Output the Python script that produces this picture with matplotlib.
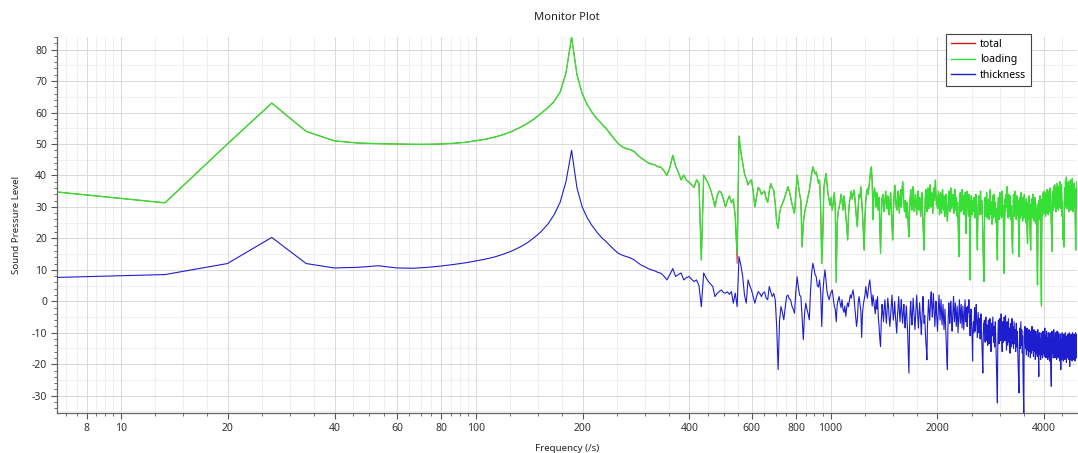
import numpy as np
import matplotlib
matplotlib.use("Agg")
import matplotlib.pyplot as plt
from matplotlib.ticker import FixedLocator, FixedFormatter, MultipleLocator, NullFormatter
from matplotlib.lines import Line2D

# ---------------- data ----------------
FREQ_STEP_HZ = 6.65   # spectral resolution of the monitor (Hz)

# loading noise (dB), bins 1..50
loading_low = [
    34.7, 31.3, 50.0, 63.0, 54.0, 51.0, 50.3, 50.1, 50.0, 49.9,
    49.9, 50.0, 50.2, 50.5, 51.0, 51.5, 52.2, 53.0, 54.0, 55.2,
    56.5, 58.0, 59.8, 61.5, 63.5, 66.5, 72.5, 84.0, 72.0, 66.0,
    62.5, 60.0, 58.0, 56.5, 55.0, 53.2, 51.5, 50.0, 49.0, 48.5,
    48.2, 47.6, 46.5, 45.5, 44.8, 44.0, 43.6, 43.4, 42.8, 42.6]
# bins 51..200
loading_mid = [
    41.5, 40.0, 42.5, 46.4, 43.0, 41.0, 38.6, 40.1, 38.5, 37.9,
    37.0, 36.2, 38.6, 37.5, 13.1, 40.1, 38.8, 37.5, 35.5, 33.0,
    30.0, 33.5, 35.0, 34.6, 32.5, 30.0, 32.0, 33.5, 31.3, 32.5,
    27.0, 15.3, 52.5, 47.5, 44.0, 40.5, 39.0, 37.0, 38.0, 38.6,
    35.0, 30.0, 33.0, 36.2, 35.5, 34.0, 34.6, 35.0, 32.5, 31.5,
    35.0, 37.4, 36.0, 35.3, 31.0, 25.0, 23.2, 28.0, 30.0, 31.0,
    32.1, 33.5, 35.0, 36.4, 35.0, 33.2, 31.0, 29.5, 27.9, 34.0,
    40.1, 37.0, 34.0, 32.1, 17.3, 25.0, 28.0, 30.0, 31.5, 33.5,
    35.3, 38.0, 40.5, 42.7, 41.5, 40.5, 41.1, 39.5, 37.5, 38.5,
    30.0, 12.0, 21.6, 36.0, 38.5, 40.6, 37.0, 34.0, 32.1, 30.5,
    33.0, 29.0, 31.0, 34.5, 30.0, 6.0, 25.0, 28.5, 30.0, 31.5,
    34.0, 32.1, 29.0, 33.5, 31.0, 27.0, 24.0, 19.5, 28.0, 31.5,
    33.2, 35.0, 32.5, 34.0, 35.3, 33.0, 29.5, 26.0, 23.7, 30.5,
    34.0, 33.0, 36.4, 32.0, 28.0, 22.0, 16.3, 27.0, 32.0, 34.5,
    35.8, 34.0, 36.5, 39.0, 41.5, 42.7, 38.0, 26.0, 34.0, 36.0]
# bins 201..380
loading_high_a = [
    33.5, 30.0, 34.5, 31.0, 29.0, 33.0, 24.0, 15.2, 27.0, 32.5,
    34.0, 30.5, 28.5, 32.0, 35.0, 31.0, 29.5, 33.5, 30.0, 27.5,
    31.5, 34.5, 29.0, 24.0, 19.5, 28.5, 33.0, 36.9, 34.0, 30.5,
    29.0, 32.5, 35.0, 31.5, 28.0, 33.0, 35.5, 30.0, 34.5, 38.0,
    35.0, 31.0, 28.5, 32.0, 30.0, 26.5, 31.5, 29.0, 24.0, 20.5,
    28.0, 32.5, 35.5, 31.0, 29.0, 33.5, 36.4, 32.0, 28.5, 31.0,
    34.0, 30.5, 27.5, 32.0, 35.0, 31.5, 29.0, 33.0, 30.0, 27.0,
    31.5, 34.5, 29.5, 24.5, 20.0, 16.3, 27.0, 32.5, 35.5, 31.0,
    28.5, 33.0, 36.0, 32.5, 29.5, 34.0, 37.0, 33.5, 30.0, 34.5,
    31.0, 28.0, 33.5, 36.0, 32.0, 35.5, 38.5, 34.0, 30.5, 33.0,
    29.5, 32.5, 35.0, 31.0, 27.5, 32.0, 34.5, 30.0, 28.0, 33.0,
    35.5, 31.5, 29.0, 33.5, 30.5, 27.0, 31.5, 34.0, 30.0, 28.5,
    25.5, 29.0, 32.5, 35.0, 31.0, 28.5, 33.0, 36.0, 32.5, 29.5,
    33.5, 30.5, 34.0, 31.5, 28.0, 32.5, 35.5, 31.5, 29.0, 33.0,
    30.0, 27.0, 31.5, 25.0, 20.0, 14.2, 26.0, 31.5, 34.5, 30.5,
    28.5, 33.0, 35.5, 31.0, 29.0, 33.5, 30.0, 27.5, 32.0, 34.5,
    30.5, 21.6, 32.5, 35.0, 31.0, 33.5, 29.5, 27.0, 31.5, 34.0,
    24.0, 6.8, 26.0, 31.0, 33.5, 30.0, 27.5, 32.0, 29.0, 31.5]
# bins 381..745
loading_high_b = [
    28.5, 33.0, 30.0, 26.5, 31.0, 34.0, 29.5, 27.0, 22.0, 16.3,
    26.0, 30.5, 33.5, 29.0, 31.5, 27.5, 32.5, 35.0, 30.5, 28.0,
    32.0, 29.5, 26.0, 21.0, 14.0, 9.0, 6.3, 22.0, 29.5, 33.0,
    30.0, 27.0, 31.5, 34.5, 29.5, 26.5, 31.0, 28.5, 32.5, 30.0,
    26.0, 29.5, 33.0, 35.5, 30.5, 27.5, 31.5, 28.0, 24.5, 30.0,
    33.5, 29.0, 26.5, 31.0, 34.0, 30.5, 27.0, 31.5, 28.0, 25.0,
    29.5, 24.0, 19.0, 13.1, 24.5, 30.5, 33.0, 29.0, 26.0, 31.5,
    34.5, 30.0, 27.5, 32.0, 29.0, 26.5, 31.0, 35.0, 30.5, 27.0,
    30.5, 25.0, 17.0, 8.9, 22.0, 29.5, 32.5, 28.5, 31.0, 34.0,
    30.0, 33.0, 36.4, 33.7, 29.5, 26.5, 31.5, 34.0, 29.0, 27.0,
    31.0, 33.5, 29.5, 26.0, 30.5, 28.0, 24.0, 21.0, 18.0, 15.2,
    26.5, 31.0, 34.0, 30.0, 27.0, 32.0, 35.0, 30.5, 28.0, 31.5,
    29.0, 26.0, 31.0, 33.5, 29.5, 27.5, 32.0, 28.5, 25.0, 20.0,
    14.2, 24.0, 30.0, 33.0, 29.5, 26.5, 31.0, 34.5, 30.0, 27.5,
    31.5, 28.5, 25.5, 30.0, 33.0, 29.0, 26.5, 31.5, 34.0, 30.0,
    27.0, 31.0, 28.0, 25.0, 29.5, 32.5, 28.5, 24.0, 21.0, 18.4,
    27.0, 31.5, 29.0, 26.0, 30.5, 33.5, 29.5, 27.0, 22.0, 19.0,
    16.3, 26.5, 31.0, 28.5, 32.5, 30.0, 26.5, 31.0, 34.0, 29.5,
    27.0, 31.5, 28.0, 25.5, 30.0, 33.0, 29.0, 26.5, 31.0, 28.0,
    24.5, 29.5, 27.0, 20.0, 12.0, 5.2, 18.0, 27.5, 31.0, 28.5,
    32.0, 29.5, 26.0, 30.5, 33.5, 29.0, 26.5, 22.0, 15.0, 7.0,
    -1.1, 20.0, 29.0, 32.5, 30.0, 27.5, 31.5, 34.5, 30.5, 28.0,
    32.5, 35.0, 31.0, 28.5, 33.0, 30.0, 27.0, 31.5, 34.5, 30.5,
    28.0, 32.5, 35.5, 31.5, 29.0, 33.0, 30.5, 27.5, 32.0, 35.0,
    31.0, 28.5, 33.5, 36.0, 32.0, 29.5, 34.0, 31.0, 27.0, 24.0,
    21.0, 18.0, 15.8, 25.0, 31.5, 35.0, 32.0, 29.0, 33.5, 36.5,
    32.5, 30.0, 34.0, 37.0, 33.0, 30.5, 34.5, 31.5, 28.5, 33.0,
    36.0, 32.5, 29.5, 34.0, 37.5, 33.5, 30.5, 35.0, 32.0, 29.0,
    33.5, 36.5, 33.0, 30.0, 34.5, 38.0, 34.0, 31.0, 35.5, 32.5,
    29.5, 34.0, 37.0, 33.5, 30.5, 27.0, 31.5, 26.0, 22.0, 19.5,
    25.0, 21.0, 19.0, 17.3, 27.0, 32.5, 36.0, 33.0, 30.0, 34.5,
    38.5, 34.5, 31.0, 35.5, 39.5, 35.0, 32.0, 29.5, 34.0, 37.5,
    33.5, 30.5, 35.0, 38.0, 34.5, 31.5, 28.5, 33.0, 36.5, 33.0,
    30.0, 34.5, 38.5, 35.0, 32.0, 29.0, 33.5, 37.0, 33.5, 30.5,
    34.5, 39.0, 35.5, 32.0, 28.5, 33.0, 36.5, 33.0, 30.0, 34.0,
    37.5, 34.0, 31.0, 35.5, 30.0, 24.0, 20.0, 16.3, 27.0, 32.5,
    36.0, 33.0, 30.0, 34.5, 38.0]

# thickness noise (dB), bins 1..50
thickness_low = [
    7.6, 8.5, 12.0, 20.3, 12.0, 10.6, 10.8, 11.3, 10.6, 10.5,
    10.8, 11.2, 11.7, 12.2, 12.8, 13.4, 14.1, 15.0, 16.0, 17.2,
    18.6, 20.3, 22.2, 24.5, 27.5, 31.5, 38.0, 48.0, 36.0, 30.0,
    26.5, 24.0, 22.0, 20.3, 19.0, 17.6, 16.3, 15.2, 14.6, 14.2,
    13.8, 13.2, 12.3, 11.5, 11.0, 10.4, 10.0, 9.7, 9.2, 8.9]
# bins 51..200
thickness_mid = [
    8.0, 6.8, 8.5, 10.4, 7.9, 8.5, 9.0, 6.8, 7.5, 7.9,
    7.0, 6.3, 6.8, 5.0, -1.7, 9.0, 7.5, 6.3, 5.5, 4.7,
    1.5, 2.5, 3.1, 3.6, 2.8, 2.6, 3.0, 2.2, 3.1, -0.6,
    2.6, -1.7, 14.2, 11.5, 8.0, 2.0, -0.6, 6.8, 5.0, 3.6,
    1.5, -0.6, 1.5, 3.1, 2.5, 1.5, 2.6, 3.0, 1.0, 0.5,
    4.7, 3.0, 1.5, 2.5, 0.5, -8.0, -21.7, -6.0, -1.7, -3.5,
    -5.9, -2.0, 1.5, 2.0, 0.8, 0.5, -1.5, -2.5, -3.8, 3.0,
    7.8, 4.5, 2.0, 1.5, -5.0, -12.2, -4.0, -0.6, -2.5, -4.0,
    -5.9, 3.0, 9.0, 12.1, 10.5, 8.5, 7.8, 5.0, 4.5, 6.8,
    3.0, -8.0, 2.5, 7.0, 10.0, 6.5, 3.0, 1.5, 0.5, 2.0,
    3.0, 3.6, 1.0, -1.5, -2.5, -6.5, -1.0, 0.5, 1.5, -0.6,
    -2.0, 0.5, -2.5, -3.5, -1.5, -4.8, -2.0, -0.5, -1.7, 0.5,
    2.0, 1.0, 2.5, 3.6, 1.5, -2.0, -5.0, -8.0, -5.5, 0.0,
    1.5, -1.0, -3.0, -11.5, -3.8, -1.0, 0.5, 2.0, 4.7, 2.5,
    1.0, 3.5, 5.5, 6.8, 4.0, 1.0, -1.5, 2.0, 0.0, -2.0]
# bins 201..360
thickness_high_a = [
    -4.0, 0.5, -2.5, 1.5, -5.0, -8.0, -12.0, -14.4, -6.0, -1.0,
    -3.5, -6.5, -2.0, 0.5, -4.0, -7.0, -3.0, 1.0, -1.5, -5.5,
    -8.0, -4.5, -1.0, 2.0, -2.5, -6.0, -3.5, 0.0, -4.5, -7.5,
    -10.1, -5.0, -2.0, 1.5, -3.0, -6.5, -2.5, 0.5, -4.0, -7.0,
    -3.5, -1.0, -5.5, -8.5, -4.0, -1.5, -6.0, -10.0, -16.0, -22.8,
    -9.0, -3.0, 0.0, -4.5, -7.5, -3.0, 1.0, -2.5, -6.0, -9.0,
    -5.0, -1.5, 2.0, -2.0, -5.5, -8.5, -4.0, -0.5, -3.5, -7.0,
    -10.5, -6.0, -2.0, 1.5, -3.0, -7.0, -4.5, -9.0, -12.5, -15.0,
    -18.6, -8.0, -3.5, 0.5, -2.5, -6.0, -3.0, 1.0, 3.0, -1.5,
    -5.0, -2.0, 2.5, -1.0, -4.5, -8.0, -3.5, 0.0, -3.0, -6.5,
    -9.5, -5.0, -1.5, 2.0, -2.5, -6.0, -3.0, 0.5, -4.0, -7.5,
    -4.5, -1.0, -5.5, -9.0, -6.0, -2.5, -7.0, -11.0, -15.0, -19.0,
    -21.7, -9.0, -4.0, -0.5, -3.5, -7.0, -4.0, 0.0, -2.5, -6.5,
    -9.5, -5.5, -2.0, 1.5, -3.0, -6.5, -3.5, -0.5, -4.5, -8.0,
    -5.0, -1.5, -6.0, -10.0, -6.5, -3.0, 0.5, -3.5, -7.0, -4.0,
    -1.0, -5.0, -8.5, -4.5, -1.5, -5.5, -9.0, -6.0, -2.5, 0.5]
# bins 361..745
thickness_high_b = [
    -3.0, -6.5, -2.0, -4.5, -8.0, -5.0, -1.5, -3.5, 0.5, -4.0,
    -7.5, -11.0, -6.0, -2.5, -5.5, -9.0, -12.2, -19.0, -9.0, -6.5,
    -10.0, -5.5, -2.0, -6.0, -9.5, -4.5, -1.0, -5.0, -8.5, -11.5,
    -7.0, -3.5, -6.5, -10.0, -5.5, -8.0, -12.0, -7.5, -4.0, -8.5,
    -11.5, -15.0, -19.0, -22.8, -12.0, -7.0, -10.5, -6.0, -9.0, -13.0,
    -8.0, -5.0, -9.5, -12.5, -7.5, -10.5, -14.0, -9.0, -6.0, -10.0,
    -13.5, -8.5, -5.5, -9.0, -12.0, -16.0, -10.5, -7.0, -11.0, -8.0,
    -5.0, -9.5, -13.0, -8.0, -11.0, -14.5, -9.5, -6.5, -10.5, -15.0,
    -19.0, -24.0, -28.0, -32.3, -16.0, -9.0, -6.0, -10.0, -13.5, -8.5,
    -5.5, -9.0, -12.5, -7.0, -4.0, -8.5, -12.0, -16.0, -10.0, -6.5,
    -9.5, -13.0, -8.0, -5.0, -9.0, -12.5, -7.5, -4.5, -8.0, -11.5,
    -15.5, -10.0, -6.5, -10.5, -14.0, -9.0, -5.5, -9.5, -13.0, -8.5,
    -11.0, -16.5, -10.5, -7.0, -11.0, -14.5, -9.0, -5.5, -10.0, -13.5,
    -8.0, -11.5, -15.0, -10.0, -6.5, -10.5, -13.5, -9.0, -12.0, -16.0,
    -10.5, -7.0, -11.0, -14.5, -9.5, -12.5, -16.5, -20.0, -24.0, -27.0,
    -29.1, -14.0, -8.5, -11.5, -15.0, -10.0, -6.5, -10.5, -14.0, -9.0,
    -12.0, -16.5, -11.0, -19.0, -27.0, -31.0, -35.5, -17.0, -9.5, -12.5,
    -8.0, -11.0, -15.0, -10.0, -13.0, -17.0, -11.5, -8.5, -12.0, -15.5,
    -10.5, -13.5, -17.5, -12.0, -9.0, -12.5, -16.0, -11.0, -14.0, -18.0,
    -12.5, -9.5, -13.0, -16.5, -11.0, -8.0, -12.0, -15.5, -10.5, -13.5,
    -17.5, -12.0, -9.0, -13.0, -16.0, -11.5, -14.5, -18.5, -12.5, -9.5,
    -13.0, -16.5, -11.0, -14.0, -17.5, -12.0, -9.0, -12.5, -16.0, -20.0,
    -23.9, -14.0, -10.0, -13.5, -17.0, -12.0, -15.0, -18.5, -13.0, -10.0,
    -13.5, -17.0, -11.5, -14.5, -18.0, -12.5, -9.5, -13.0, -16.5, -11.0,
    -14.0, -17.5, -12.0, -8.5, -12.5, -16.0, -11.0, -14.0, -18.0, -12.5,
    -9.5, -13.5, -17.0, -11.5, -14.5, -18.5, -13.0, -10.0, -13.5, -17.5,
    -12.0, -15.5, -19.0, -13.5, -10.0, -14.0, -17.5, -21.0, -24.5, -27.0,
    -17.0, -12.5, -9.5, -13.0, -16.5, -11.0, -14.5, -18.0, -12.5, -9.0,
    -13.0, -16.5, -11.5, -14.5, -18.0, -13.0, -10.0, -13.5, -17.0, -12.0,
    -15.0, -18.5, -13.0, -9.5, -13.5, -17.0, -11.5, -14.5, -18.0, -12.5,
    -10.0, -14.0, -17.5, -12.5, -15.5, -19.0, -13.5, -10.5, -14.5, -21.7,
    -16.0, -12.0, -15.0, -18.5, -13.0, -10.0, -13.5, -17.0, -12.5, -15.5,
    -19.0, -13.5, -10.5, -14.0, -17.5, -12.0, -15.0, -18.5, -13.0, -10.0,
    -13.5, -17.0, -12.5, -15.5, -19.5, -14.0, -11.0, -14.5, -18.0, -13.0,
    -10.5, -14.0, -17.5, -12.0, -15.0, -18.5, -13.5, -10.0, -14.0, -20.7,
    -15.5, -12.0, -15.0, -18.5, -13.0, -10.5, -14.0, -17.0, -12.5, -15.5,
    -19.0, -13.5, -10.0, -13.5, -17.0, -12.0, -15.0, -18.5, -13.5, -10.5,
    -14.0, -17.5, -12.5, -15.5, -19.0, -13.0, -10.0, -14.0, -17.5, -12.0,
    -15.0, -18.0, -13.0, -10.5, -14.0]

# bins where total differs visibly from loading
total_overrides = {82: 12.0, 591: -1.6}

x_tick_values = [8, 10, 20, 40, 60, 80, 100, 200, 400, 600, 800, 1000, 2000, 4000]
x_tick_labels = ["8", "10", "20", "40", "60", "80", "100", "200", "400",
                 "600", "800", "1000", "2000", "4000"]
y_tick_values = [-30, -20, -10, 0, 10, 20, 30, 40, 50, 60, 70, 80]
series_names = ["total", "loading", "thickness"]

# ---------------- assemble ----------------
loading = np.array(loading_low + loading_mid + loading_high_a + loading_high_b)
thickness = np.array(thickness_low + thickness_mid + thickness_high_a + thickness_high_b)
total = loading.copy()
for b, v in total_overrides.items():
    if b - 1 < len(total):
        total[b - 1] = v
f_load = FREQ_STEP_HZ * np.arange(1, len(loading) + 1)
f_thick = FREQ_STEP_HZ * np.arange(1, len(thickness) + 1)

# ---------------- figure ----------------
W, H = 1078, 453
fig = plt.figure(figsize=(W / 100, H / 100), dpi=100)
fig.patch.set_facecolor("white")
ax = fig.add_axes([57 / W, 1 - 413 / H, (1077 - 57) / W, (413 - 37) / H])

C_RED, C_GREEN, C_BLUE = "#cc1a1a", "#33e033", "#1e1ecf"

ax.plot(f_load, total, color=C_RED, lw=0.6, zorder=3)
ax.plot(f_load, loading, color=C_GREEN, lw=1.0, zorder=4)
ax.plot(f_thick, thickness, color=C_BLUE, lw=0.8, zorder=4)

ax.set_xscale("log")
ax.set_xlim(6.6, 4950)
ax.set_ylim(-35.5, 84.0)

# ticks
minor_mult = [1.25, 1.5, 1.75, 2.5, 3, 3.5, 4.5, 5, 5.5, 6.5, 7, 7.5, 8.5, 9, 9.5]
minor_x = [m * d for d in (1, 10, 100, 1000) for m in minor_mult if 6.6 <= m * d <= 4950]
ax.xaxis.set_major_locator(FixedLocator(x_tick_values))
ax.xaxis.set_major_formatter(FixedFormatter(x_tick_labels))
ax.xaxis.set_minor_locator(FixedLocator(minor_x))
ax.xaxis.set_minor_formatter(NullFormatter())
ax.yaxis.set_major_locator(FixedLocator(y_tick_values))
ax.yaxis.set_major_formatter(FixedFormatter([str(v) for v in y_tick_values]))
ax.yaxis.set_minor_locator(MultipleLocator(2))

for lab in ax.get_xticklabels() + ax.get_yticklabels():
    lab.set_fontfamily("Noto Sans")
ax.tick_params(axis="both", which="major", length=4, width=0.8, color="#555555",
               labelsize=7.5, labelcolor="#333333", direction="out", pad=3)
ax.tick_params(axis="both", which="minor", length=2, width=0.6, color="#555555",
               direction="out")

ax.set_axisbelow(True)
ax.grid(which="major", color="#d9d9d9", lw=0.7)
ax.grid(which="minor", axis="x", color="#ededed", lw=0.6)
for yv in range(-35, 85, 10):
    ax.axhline(yv, color="#eeeeee", lw=0.6, zorder=0)

for s in ("top", "right"):
    ax.spines[s].set_visible(False)
for s in ("left", "bottom"):
    ax.spines[s].set_color("#666666")
    ax.spines[s].set_linewidth(0.9)

# labels
fig.text(567 / W, 1 - 18 / H, "Monitor Plot", ha="center", va="center",
         fontsize=8, color="#222222", family="Noto Sans")
fig.text(567 / W, 1 - 448.5 / H, "Frequency (/s)", ha="center", va="center",
         fontsize=7, color="#222222", family="Noto Sans")
fig.text(17 / W, 1 - 225 / H, "Sound Pressure Level", ha="center", va="center",
         rotation=90, fontsize=7, color="#222222", family="Noto Sans")

handles = [Line2D([], [], color=c, lw=1.0) for c in (C_RED, C_GREEN, C_BLUE)]
leg = fig.legend(handles, series_names, loc="upper left",
                 bbox_to_anchor=(946 / W, 1 - 34 / H), bbox_transform=fig.transFigure,
                 borderaxespad=0, frameon=True, fancybox=False, framealpha=1,
                 edgecolor="#444444", handlelength=2.3,
                 handletextpad=0.5, labelspacing=0.45, borderpad=0.45,
                 prop={"family": "Noto Sans", "size": 7.5})
leg.get_frame().set_linewidth(0.8)

fig.savefig("out.png", dpi=100)
